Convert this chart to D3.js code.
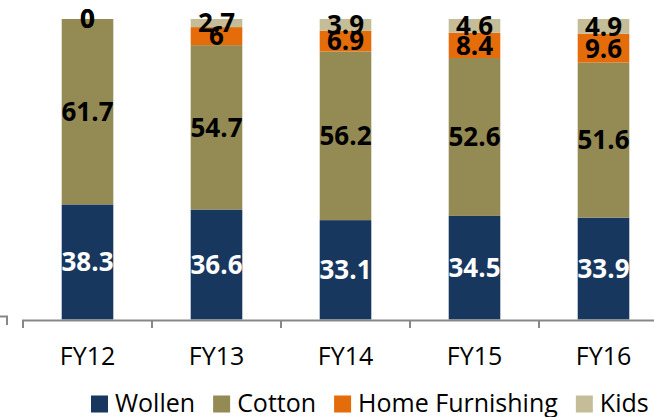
<!DOCTYPE html>
<html>
<head>
<meta charset="utf-8">
<script src="https://cdn.jsdelivr.net/npm/d3@7"></script>
<style>
  html, body { margin: 0; padding: 0; background: #fff; }
  svg { display: block; font-family: 'Open Sans', sans-serif; }
</style>
</head>
<body>
<svg id="chart"></svg>
<script>
const categories = ['FY12', 'FY13', 'FY14', 'FY15', 'FY16'];
const seriesNames = ['Wollen', 'Cotton', 'Home Furnishing', 'Kids'];
const wollen = [38.3, 36.6, 33.1, 34.5, 33.9];
const cotton = [61.7, 54.7, 56.2, 52.6, 51.6];
const homeFurnishing = [0, 6, 6.9, 8.4, 9.6];
const kids = [0, 2.7, 3.9, 4.6, 4.9];
const colors = ['#17375e', '#948a54', '#e46c0a', '#c4bd97'];
const labelColors = ['#fff', '#000', '#000', '#000'];

const rows = categories.map((c, i) => ({
  cat: c,
  'Wollen': wollen[i],
  'Cotton': cotton[i],
  'Home Furnishing': homeFurnishing[i],
  'Kids': kids[i]
}));

const svg = d3.select('#chart').attr('width', 654).attr('height', 417);

const x = d3.scaleBand().domain(categories).range([23, 668]).paddingInner(0.6).paddingOuter(0.3);
const y = d3.scaleLinear().domain([0, 1]).range([319.5, 19]);
const step = x.step();

const stacked = d3.stack().keys(seriesNames).offset(d3.stackOffsetExpand)(rows);

// bars
const layers = svg.append('g').selectAll('g')
  .data(stacked)
  .enter()
  .append('g')
  .attr('fill', (d, i) => colors[i]);

layers.selectAll('rect')
  .data(d => d)
  .enter()
  .append('rect')
  .attr('x', d => x(d.data.cat))
  .attr('y', d => y(d[1]))
  .attr('width', x.bandwidth())
  .attr('height', d => y(d[0]) - y(d[1]));

// value labels
stacked.forEach((layer, li) => {
  svg.append('g').selectAll('text')
    .data(layer)
    .enter()
    .append('text')
    .attr('x', d => x(d.data.cat) + x.bandwidth() / 2)
    .attr('y', d => y((d[0] + d[1]) / 2))
    .attr('dy', '0.36em')
    .attr('text-anchor', 'middle')
    .attr('font-size', '26px')
    .attr('font-weight', 'bold')
    .attr('fill', labelColors[li])
    .text(d => d.data[layer.key]);
});

// axis line and boundary ticks
const axisG = svg.append('g').attr('stroke', '#878787').attr('stroke-width', 2).attr('fill', 'none');
axisG.append('path').attr('d', `M${x.range()[0]},328V320.5H654`);
axisG.selectAll('line')
  .data(categories.slice(1).map(c => x(c) - step * 0.3))
  .enter()
  .append('line')
  .attr('x1', d => d).attr('x2', d => d)
  .attr('y1', 320.5).attr('y2', 328);
// fragment of neighbouring axis at left edge
axisG.append('path').attr('d', 'M0,316.5H7V325');

// category labels
svg.append('g').selectAll('text')
  .data(categories)
  .enter()
  .append('text')
  .attr('x', d => x(d) + x.bandwidth() / 2)
  .attr('y', 365)
  .attr('text-anchor', 'middle')
  .attr('font-size', '25px')
  .attr('fill', '#000')
  .text(d => d);

// legend
const legend = svg.append('g');
let lx = 91;
seriesNames.forEach((name, i) => {
  legend.append('rect')
    .attr('x', lx).attr('y', 395.5)
    .attr('width', 17).attr('height', 17)
    .attr('fill', colors[i]);
  const t = legend.append('text')
    .attr('x', lx + 24)
    .attr('y', 412)
    .attr('font-size', '25px')
    .attr('fill', '#000')
    .text(name);
  lx += 24 + t.node().getComputedTextLength() + 18;
});
</script>
</body>
</html>
